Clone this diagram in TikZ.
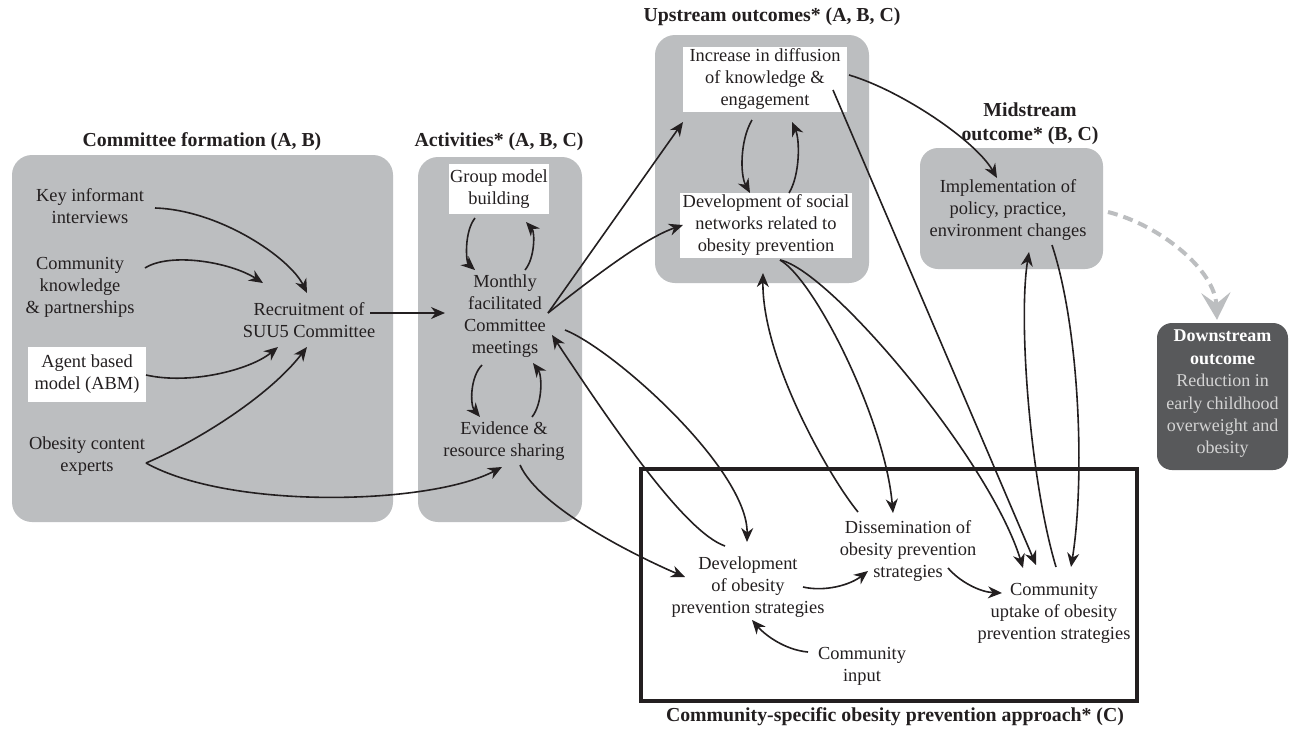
\documentclass[tikz,border=0pt]{standalone}
\usepackage{fontspec}
\setmainfont{Liberation Serif}
\usetikzlibrary{arrows.meta,calc}
\definecolor{boxgray}{HTML}{BCBEC0}
\definecolor{darkbox}{HTML}{58595B}
\definecolor{ink}{HTML}{231F20}
\definecolor{lightink}{HTML}{D4D4D4}
\newcommand\dtxt{\fontsize{18.4}{22}\selectfont}
\newcommand\dhead{\bfseries\fontsize{19.8}{24}\selectfont}
\begin{document}
\begin{tikzpicture}[x=1pt,y=-1pt,
  graybox/.style={fill=boxgray, rounded corners=20pt, inner sep=0pt, draw=none},
  whitebox/.style={fill=white, inner sep=0pt, align=center, font=\dtxt, text=ink},
  lbl/.style={inner sep=0pt, align=center, font=\dtxt, text=ink},
  head/.style={inner sep=0pt, align=center, font=\dhead, text=ink},
  conn/.style={draw=ink, line width=1.6pt, -{Stealth[length=14pt,width=12pt,inset=4.5pt]}},
  dashconn/.style={draw=boxgray, line width=4pt, dash pattern=on 10pt off 6pt, -{Stealth[length=27pt,width=29pt,inset=11pt]}},
]
\fill[white] (0,0) rectangle (1291,729);
\useasboundingbox (0,0) rectangle (1291,729);

% group boxes
\node[graybox, minimum width=381pt, minimum height=367pt] (cbox) at (202.5,338.5) {};
\node[graybox, minimum width=164pt, minimum height=365pt] (abox) at (500,339.5) {};
\node[graybox, minimum width=214pt, minimum height=248pt] (ubox) at (762,159) {};
\node[graybox, rounded corners=18pt, minimum width=183pt, minimum height=121pt] (mbox) at (1011.5,208.5) {};
\node[graybox, fill=darkbox, rounded corners=15pt, minimum width=131pt, minimum height=147pt] (dbox) at (1222.5,396.5) {};
\node[draw=ink, line width=3.5pt, inner sep=0pt, minimum width=496pt, minimum height=232pt] (cbx) at (889,585) {};

% headings
\node[head] (hcom) at (202,142) {Committee formation (A, B)};
\node[head] (hact) at (499,142) {Activities* (A, B, C)};
\node[head] (hup) at (772,17) {Upstream outcomes* (A, B, C)};
\node[head] (hmid) at (1030,124) {Midstream\\outcome* (B, C)};
\node[head] (hcsp) at (895,717) {Community-specific obesity prevention approach* (C)};

% nodes
\node[lbl] (kii) at (90,206) {Key informant\\interviews};
\node[lbl] (ckp) at (80,287) {Community\\knowledge\\\& partnerships};
\node[whitebox, minimum width=118pt, minimum height=55pt] (abm) at (87,374.5) {Agent based\\model (ABM)};
\node[lbl] (oce) at (87,456) {Obesity content\\experts};
\node[lbl] (rec) at (309,320) {Recruitment of\\SUU5 Committee};
\node[whitebox, minimum width=100pt, minimum height=50pt] (gmb) at (499,189) {Group model\\building};
\node[lbl] (mon) at (505,316.5) {Monthly\\facilitated\\Committee\\meetings};
\node[lbl] (evi) at (504,441) {Evidence \&\\resource sharing};
\node[whitebox, minimum width=164pt, minimum height=65pt] (inc) at (765,79.5) {Increase in diffusion\\of knowledge \&\\engagement};
\node[whitebox, minimum width=172pt, minimum height=65pt] (dsn) at (766,225.5) {Development of social\\networks related to\\obesity prevention};
\node[lbl] (imp) at (1008,210) {Implementation of\\policy, practice,\\environment changes};
\node[lbl, text=lightink, font=\fontsize{18}{22.4}\selectfont] (dwn) at (1222.5,394) {{\bfseries\color{white}Downstream}\\{\bfseries\color{white}outcome}\\Reduction in\\early childhood\\overweight and\\obesity};
\node[lbl] (dop) at (748,587) {Development\\of obesity\\prevention strategies};
\node[lbl] (dis) at (908,551) {Dissemination of\\obesity prevention\\strategies};
\node[lbl] (upt) at (1054,613) {Community\\uptake of obesity\\prevention strategies};
\node[lbl] (cin) at (862,666) {Community\\input};

% connectors
\draw[conn] ([shift={(65,2)}]kii.center) .. controls (220,210) and (290,258) .. ([shift={(-2,-27)}]rec.center);
\draw[conn] ([shift={(65,-19)}]ckp.center) .. controls (170,252) and (230,262) .. ([shift={(-46,-37)}]rec.center);
\draw[conn] ([shift={(59,0.5)}]abm.center) .. controls (190,385) and (250,370) .. ([shift={(-31,27)}]rec.center);
\draw[conn] ([shift={(59,7)}]oce.center) .. controls (200,440) and (270,395) .. ([shift={(-2,27)}]rec.center);
\draw[conn] ([shift={(59,7)}]oce.center) .. controls (230,510) and (430,505) .. ([shift={(-2,26)}]evi.center);
\draw[conn] ([shift={(61,-7)}]rec.center) -- ([shift={(-60,-3.5)}]mon.center);
\draw[conn] ([shift={(-24,29)}]gmb.center) .. controls (464,232) and (466,262) .. ([shift={(-30,-46.5)}]mon.center);
\draw[conn] ([shift={(20,-46.5)}]mon.center) .. controls (535,258) and (535,232) .. ([shift={(27,33)}]gmb.center);
\draw[conn] ([shift={(-23,48.5)}]mon.center) .. controls (470,377) and (470,405) .. ([shift={(-24,-24)}]evi.center);
\draw[conn] ([shift={(28,-24)}]evi.center) .. controls (543,403) and (542,375) .. ([shift={(28,46.5)}]mon.center);
\draw[conn] ([shift={(43,-3.5)}]mon.center) -- ([shift={(-82,42.5)}]inc.center);
\draw[conn] ([shift={(43,-3.5)}]mon.center) .. controls (595,276) and (645,238) .. ([shift={(-83,-0.5)}]dsn.center);
\draw[conn] ([shift={(60,13.5)}]mon.center) .. controls (615,350) and (748,470) .. ([shift={(-1,-45)}]dop.center);
\draw[conn] ([shift={(-23,-41)}]dop.center) .. controls (685,532) and (615,430) .. ([shift={(47,18.5)}]mon.center);
\draw[conn] ([shift={(16,24)}]evi.center) .. controls (540,510) and (645,560) .. ([shift={(-63,-10)}]dop.center);
\draw[conn] ([shift={(55,0)}]dop.center) .. controls (825,592) and (850,585) .. ([shift={(-40,20)}]dis.center);
\draw[conn] ([shift={(40,17)}]dis.center) .. controls (960,582) and (980,592) .. ([shift={(-52,-20)}]upt.center);
\draw[conn] ([shift={(-54,-14)}]cin.center) .. controls (785,650) and (765,635) .. ([shift={(4,33)}]dop.center);
\draw[conn] ([shift={(-13,40.5)}]inc.center) .. controls (740,140) and (740,175) .. ([shift={(-16,-32.5)}]dsn.center);
\draw[conn] ([shift={(23,-32.5)}]dsn.center) .. controls (800,175) and (800,140) .. ([shift={(27,42.5)}]inc.center);
\draw[conn] ([shift={(84,-4.5)}]inc.center) .. controls (900,90) and (975,140) .. ([shift={(-11,-32)}]imp.center);
\draw[conn] ([shift={(68,10.5)}]inc.center) -- ([shift={(-18,-48)}]upt.center);
\draw[conn] ([shift={(14,34.5)}]dsn.center) .. controls (815,280) and (885,420) .. ([shift={(-15,-38)}]dis.center);
\draw[conn] ([shift={(14,34.5)}]dsn.center) .. controls (830,270) and (990,460) .. ([shift={(-31,-45)}]upt.center);
\draw[conn] ([shift={(-50,-39)}]dis.center) .. controls (830,478) and (762,360) .. ([shift={(-3,47.5)}]dsn.center);
\draw[conn] ([shift={(2,-46)}]upt.center) .. controls (1030,480) and (1018,320) .. ([shift={(21,42)}]imp.center);
\draw[conn] ([shift={(44,35)}]imp.center) .. controls (1080,330) and (1085,480) .. ([shift={(17,-46)}]upt.center);
\draw[dashconn] ([shift={(100,2)}]imp.center) .. controls (1160,225) and (1215,270) .. ([shift={(-5.5,-3)}]dbox.north);
\end{tikzpicture}
\end{document}
